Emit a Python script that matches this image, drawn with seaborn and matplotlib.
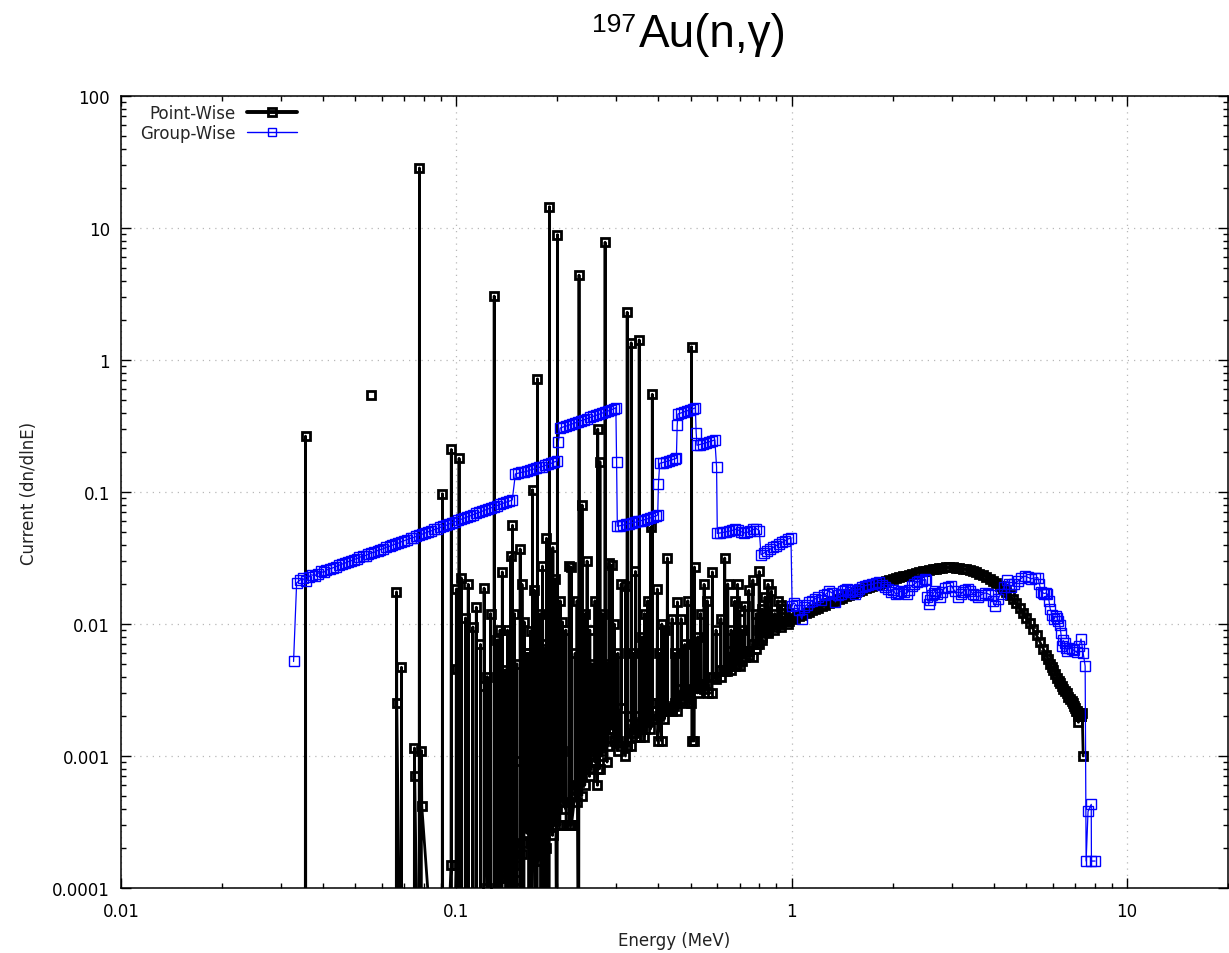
import numpy as np
import pandas as pd
import matplotlib
matplotlib.use("Agg")
import matplotlib.pyplot as plt
import seaborn as sns
from matplotlib.ticker import LogLocator, NullFormatter, FixedLocator, FixedFormatter
from matplotlib.lines import Line2D

# ---------------- Point-wise current: resolved resonances (MeV, dn/dlnE) ----------------
# each resonance: centre energy, peak value, floor on its low- and high-energy side
res_energy = [0.0355, 0.0663, 0.0686, 0.0750, 0.0776, 0.0787, 0.0909, 0.0966, 0.1000, 0.1019,
              0.1034, 0.1064, 0.1085, 0.1120, 0.1147, 0.1180, 0.1210, 0.1236, 0.1265, 0.1297,
              0.1324, 0.1371, 0.1421, 0.1452, 0.1470, 0.1514, 0.1550, 0.1593, 0.1640, 0.1664,
              0.1687, 0.1745, 0.1806, 0.1856, 0.1895, 0.1940, 0.2002, 0.2040, 0.2071, 0.2120,
              0.2171, 0.2200, 0.2322, 0.2371, 0.2420, 0.2454, 0.2540, 0.2590, 0.2640, 0.2680,
              0.2777, 0.2854, 0.2914, 0.3101, 0.3200, 0.3232, 0.3322, 0.3420, 0.3510, 0.3640,
              0.3800, 0.3840, 0.3975, 0.4100, 0.4258, 0.4400, 0.4563, 0.4800, 0.5027, 0.5131,
              0.5350, 0.5600, 0.5800, 0.6150, 0.6314, 0.6446, 0.6766, 0.7003, 0.7250, 0.7662,
              0.8000, 0.8323, 0.8700, 0.9100, 0.9556]
res_peak = [0.265, 0.0175, 0.0047, 0.00115, 28.5, 0.0011, 0.097, 0.21, 0.0184, 0.18,
            0.0224, 0.0111, 0.0200, 0.0095, 0.0134, 0.0070, 0.0187, 0.0040, 0.0120, 3.05,
            0.0076, 0.0248, 0.0090, 0.0327, 0.056, 0.0050, 0.037, 0.0104, 0.0060, 0.0089,
            0.104, 0.72, 0.0275, 0.0446, 14.5, 0.0380, 8.9, 0.0150, 0.0104, 0.0090,
            0.0275, 0.0270, 4.4, 0.0798, 0.0120, 0.0300, 0.0050, 0.0150, 0.30, 0.17,
            7.8, 0.029, 0.028, 0.0201, 0.0194, 2.3, 1.35, 0.025, 1.42, 0.012,
            0.054, 0.55, 0.0184, 0.0100, 0.0316, 0.0110, 0.0147, 0.0070, 1.26, 0.027,
            0.0120, 0.0150, 0.0248, 0.0110, 0.0316, 0.0201, 0.0149, 0.0126, 0.0137, 0.0216,
            0.0250, 0.0160, 0.0178, 0.0150, 0.0130]
res_floor_left = [3e-6, 3e-6, 3e-6, 3e-6, 3e-6, 3e-6, 3e-6, 0.00015, 0.00015, 3e-6,
                  3e-6, 3e-6, 3e-6, 3e-6, 3e-6, 3e-6, 3e-6, 0.0001, 3e-6, 3e-6,
                  3e-6, 3e-6, 0.00016, 3e-6, 3e-6, 3e-6, 3e-6, 3e-6, 0.00042, 3e-6,
                  3e-6, 3e-6, 0.00020, 0.00020, 3e-6, 0.00025, 3e-6, 0.00030, 0.0011, 0.0004,
                  0.0003, 0.0003, 3e-6, 0.0005, 0.0006, 0.00085, 0.0011, 0.0009, 0.0006, 0.0008,
                  0.0016, 0.0016, 0.0016, 0.0023, 0.0010, 0.0012, 0.0012, 0.0020, 0.0014, 0.0014,
                  0.0016, 0.0025, 0.0019, 0.0013, 0.0022, 0.0023, 0.0022, 0.0032, 0.0025, 0.0013,
                  0.0033, 0.0035, 0.0030, 0.0040, 0.0045, 0.0044, 0.0062, 0.0048, 0.0062, 0.0056,
                  0.0070, 0.0090, 0.0110, 0.0100, 0.0105]
res_floor_right = [3e-6, 0.0025, 3e-6, 0.0007, 3e-6, 0.00042, 3e-6, 3e-6, 0.0046, 3e-6,
                   3e-6, 3e-6, 3e-6, 3e-6, 3e-6, 3e-6, 0.0034, 3e-6, 3e-6, 3e-6,
                   0.00012, 0.00016, 3e-6, 0.00067, 3e-6, 0.000115, 0.00092, 0.0030, 3e-6, 0.00022,
                   0.00016, 0.00016, 0.0071, 3e-6, 0.0011, 0.00032, 0.00053, 0.0006, 0.00045, 0.0003,
                   0.0003, 0.0003, 0.00064, 0.0020, 0.0008, 0.0011, 0.0034, 0.0012, 0.0008, 0.0016,
                   0.0016, 0.0016, 0.0023, 0.0012, 0.0012, 0.0012, 0.0020, 0.0014, 0.0014, 0.0016,
                   0.0025, 0.0019, 0.0013, 0.0022, 0.0023, 0.0022, 0.0032, 0.0025, 0.0013, 0.0033,
                   0.0035, 0.0030, 0.0040, 0.0045, 0.0044, 0.0062, 0.0048, 0.0062, 0.0056, 0.0070,
                   0.0090, 0.0110, 0.0100, 0.0105, 0.0105]

# weaker resonances between the strong ones
weak_energy = [0.1350, 0.1400, 0.1490, 0.1570, 0.1620, 0.1710, 0.1780, 0.1830, 0.1920, 0.1975,
               0.2260, 0.2290, 0.2500, 0.2720, 0.2820, 0.2960, 0.3030, 0.3370, 0.3580, 0.3720,
               0.4030, 0.4180, 0.4480, 0.4680, 0.4900, 0.5250, 0.5480, 0.5950, 0.6600, 0.6900,
               0.7100, 0.7450, 0.7850, 0.8150, 0.8500, 0.8900, 0.9300, 0.9800]
weak_peak = [0.0090, 0.0045, 0.0120, 0.0200, 0.0060, 0.0180, 0.0120, 0.0065, 0.0100, 0.0220,
             0.0060, 0.0150, 0.0090, 0.0120, 0.0050, 0.0100, 0.0060, 0.0060, 0.0080, 0.0150,
             0.0060, 0.0090, 0.0060, 0.0110, 0.0150, 0.0080, 0.0200, 0.0090, 0.0090, 0.0200,
             0.0090, 0.0180, 0.0120, 0.0130, 0.0200, 0.0120, 0.0140, 0.0120]
weak_floor_left = [3e-6, 0.00013, 3e-6, 0.00018, 0.00030, 0.00020, 0.00028, 3e-6, 0.00035, 0.00030,
                   0.00050, 0.00045, 0.00070, 0.00100, 0.00090, 0.00130, 0.00110, 0.00150, 0.00170, 0.00180,
                   0.00200, 0.00190, 0.00240, 0.00260, 0.00280, 0.00300, 0.00320, 0.00380, 0.00450, 0.00500,
                   0.00520, 0.00580, 0.00650, 0.00750, 0.00850, 0.00900, 0.00950, 0.01000]
weak_floor_right = [0.00012, 3e-6, 0.00015, 0.00022, 0.00026, 0.00025, 3e-6, 0.00030, 0.00040, 0.00042,
                    0.00055, 0.00060, 0.00080, 0.00110, 0.00120, 0.00140, 0.00130, 0.00160, 0.00180, 0.00210,
                    0.00220, 0.00230, 0.00250, 0.00270, 0.00300, 0.00340, 0.00350, 0.00400, 0.00480, 0.00550,
                    0.00600, 0.00620, 0.00700, 0.00800, 0.00880, 0.00950, 0.01000, 0.01050]
RES_HALF_WIDTH = 0.002  # relative half width of a drawn resonance

# stray point with no connected neighbours
pw_single_energy = [0.0555]
pw_single_value = [0.54]

# ---------------- Point-wise current: smooth continuum ----------------
pw_cont_energy = [1.00, 1.025, 1.05, 1.075, 1.10, 1.125, 1.15, 1.175, 1.20, 1.23,
                  1.26, 1.29, 1.32, 1.35, 1.38, 1.415, 1.45, 1.485, 1.52, 1.555,
                  1.59, 1.625, 1.66, 1.70, 1.74, 1.78, 1.82, 1.865, 1.91, 1.955,
                  2.00, 2.045, 2.09, 2.14, 2.19, 2.24, 2.29, 2.345, 2.40, 2.455,
                  2.51, 2.57, 2.63, 2.69, 2.75, 2.815, 2.88, 2.95, 3.02, 3.09,
                  3.16, 3.235, 3.31, 3.39, 3.47, 3.55, 3.63, 3.715, 3.80, 3.89,
                  3.98, 4.075, 4.17, 4.27, 4.37, 4.47, 4.57, 4.68, 4.79, 4.90,
                  5.01, 5.13, 5.25, 5.375, 5.50, 5.625, 5.75, 5.825, 5.90, 5.965,
                  6.03, 6.115, 6.20, 6.255, 6.31, 6.385, 6.46, 6.535, 6.61, 6.685,
                  6.76, 6.83, 6.90, 6.95, 7.00, 7.04, 7.08, 7.12, 7.16, 7.20,
                  7.24, 7.27, 7.30, 7.35, 7.40]
pw_cont_value = [0.0110, 0.0112, 0.0115, 0.0118, 0.0121, 0.0124, 0.0127, 0.0130, 0.0133, 0.0136,
                 0.0140, 0.0143, 0.0147, 0.0150, 0.0154, 0.0158, 0.0162, 0.0166, 0.0170, 0.0174,
                 0.0178, 0.0182, 0.0186, 0.0190, 0.0194, 0.0198, 0.0202, 0.0206, 0.0210, 0.0214,
                 0.0218, 0.0222, 0.0226, 0.0230, 0.0233, 0.0237, 0.0240, 0.0244, 0.0247, 0.0250,
                 0.0253, 0.0256, 0.0259, 0.0262, 0.0265, 0.0267, 0.0268, 0.0268, 0.0268, 0.0267,
                 0.0265, 0.0262, 0.0259, 0.0255, 0.0251, 0.0246, 0.0241, 0.0235, 0.0228, 0.0221,
                 0.0213, 0.0204, 0.0195, 0.0185, 0.0175, 0.0165, 0.0154, 0.0143, 0.0132, 0.0122,
                 0.0111, 0.0101, 0.0091, 0.0082, 0.0073, 0.0065, 0.0058, 0.0054, 0.0050, 0.0047,
                 0.0045, 0.0042, 0.0039, 0.0037, 0.0036, 0.0034, 0.0032, 0.0031, 0.0030, 0.0028,
                 0.0027, 0.0026, 0.0025, 0.0024, 0.0023, 0.0022, 0.0022, 0.0020, 0.0018, 0.0020,
                 0.0021, 0.0020, 0.0020, 0.0021, 0.0010]

# ---------------- Group-wise current ----------------
gw_first_energy = [0.0327]
gw_first_value = [0.0052]

gw_low_energy = [0.0334, 0.0341, 0.0348, 0.0355, 0.0363, 0.0370, 0.0378, 0.0386, 0.0394, 0.0402,
                 0.0410, 0.0419, 0.0428, 0.0437, 0.0446, 0.0455, 0.0464, 0.0474, 0.0484, 0.0494,
                 0.0504, 0.0514, 0.0525, 0.0536, 0.0547, 0.0558, 0.0570, 0.0582, 0.0594, 0.0606,
                 0.0619, 0.0632, 0.0645, 0.0658, 0.0672, 0.0686, 0.0700, 0.0715, 0.0730, 0.0745,
                 0.0760, 0.0776, 0.0792, 0.0808, 0.0825, 0.0842, 0.0860, 0.0878, 0.0896, 0.0915,
                 0.0934, 0.0953, 0.0973, 0.0993, 0.1014, 0.1035, 0.1056, 0.1078, 0.1100, 0.1123,
                 0.1147, 0.1171, 0.1195, 0.1220, 0.1245, 0.1271, 0.1297, 0.1324, 0.1352, 0.1380,
                 0.1408, 0.1438, 0.1468]
gw_low_value = [0.0205, 0.0214, 0.0222, 0.0210, 0.0228, 0.0236, 0.0232, 0.0241, 0.0250, 0.0246,
                0.0256, 0.0262, 0.0266, 0.0272, 0.0278, 0.0284, 0.0288, 0.0296, 0.0300, 0.0308,
                0.0312, 0.0320, 0.0326, 0.0330, 0.0338, 0.0346, 0.0350, 0.0360, 0.0366, 0.0372,
                0.0382, 0.0388, 0.0396, 0.0404, 0.0410, 0.0420, 0.0428, 0.0436, 0.0446, 0.0452,
                0.0462, 0.0472, 0.0480, 0.0490, 0.0500, 0.0508, 0.0520, 0.0528, 0.0540, 0.0552,
                0.0560, 0.0574, 0.0586, 0.0596, 0.0610, 0.0622, 0.0634, 0.0648, 0.0660, 0.0674,
                0.0688, 0.0700, 0.0716, 0.0730, 0.0744, 0.0760, 0.0775, 0.0790, 0.0806, 0.0822,
                0.0838, 0.0852, 0.0870]

gw_mid_energy = [0.1500, 0.1531, 0.1563, 0.1596, 0.1629, 0.1663, 0.1697, 0.1733, 0.1769, 0.1805,
                 0.1843, 0.1881, 0.1920, 0.1960, 0.2000, 0.2015,
                 0.2040, 0.2083, 0.2126, 0.2170, 0.2215, 0.2261, 0.2308, 0.2356, 0.2405, 0.2455,
                 0.2506, 0.2558, 0.2611, 0.2666, 0.2721, 0.2778, 0.2835, 0.2894, 0.2954, 0.2990,
                 0.3005,
                 0.3020, 0.3083, 0.3147, 0.3212, 0.3279, 0.3347, 0.3417, 0.3488, 0.3560, 0.3634,
                 0.3710, 0.3787, 0.3866, 0.3946, 0.3985, 0.4005,
                 0.4040, 0.4124, 0.4210, 0.4297, 0.4386, 0.4477, 0.4530, 0.4555,
                 0.4580, 0.4675, 0.4772, 0.4872, 0.4973, 0.5076, 0.5160, 0.5190,
                 0.5220, 0.5328, 0.5439, 0.5552, 0.5667, 0.5785, 0.5900, 0.5970,
                 0.6000, 0.6125, 0.6252, 0.6382, 0.6515, 0.6650, 0.6788, 0.6929, 0.7073, 0.7220,
                 0.7370, 0.7524, 0.7680, 0.7840, 0.8003,
                 0.8100, 0.8268, 0.8440, 0.8616, 0.8795, 0.8978, 0.9164, 0.9355, 0.9549, 0.9748,
                 0.9950]
gw_mid_value = [0.137, 0.139, 0.141, 0.142, 0.144, 0.147, 0.149, 0.151, 0.154, 0.156,
                0.159, 0.162, 0.165, 0.169, 0.172, 0.240,
                0.305, 0.311, 0.316, 0.322, 0.328, 0.334, 0.340, 0.347, 0.353, 0.360,
                0.367, 0.374, 0.381, 0.388, 0.396, 0.403, 0.411, 0.419, 0.428, 0.436,
                0.168,
                0.0550, 0.0556, 0.0562, 0.0570, 0.0576, 0.0584, 0.0590, 0.0600, 0.0608, 0.0616,
                0.0626, 0.0636, 0.0648, 0.0660, 0.0672, 0.115,
                0.165, 0.167, 0.170, 0.172, 0.175, 0.178, 0.180, 0.320,
                0.390, 0.397, 0.404, 0.411, 0.419, 0.427, 0.435, 0.280,
                0.226, 0.229, 0.232, 0.236, 0.240, 0.244, 0.248, 0.155,
                0.0485, 0.0490, 0.0495, 0.0500, 0.0505, 0.0512, 0.0522, 0.0515, 0.0500, 0.0490,
                0.0495, 0.0505, 0.0520, 0.0528, 0.0510,
                0.0335, 0.0345, 0.0358, 0.0368, 0.0380, 0.0392, 0.0403, 0.0415, 0.0427, 0.0440,
                0.0450]

gw_high_energy = [1.003, 1.015, 1.029, 1.050, 1.072, 1.090, 1.110, 1.130, 1.150, 1.175,
                  1.200, 1.225, 1.250, 1.270, 1.290, 1.320, 1.350, 1.375, 1.400, 1.420,
                  1.440, 1.465, 1.490, 1.515, 1.540, 1.565, 1.590, 1.620, 1.650, 1.690,
                  1.740, 1.780, 1.820, 1.860, 1.900, 1.940, 1.980, 2.010, 2.040, 2.080,
                  2.120, 2.160, 2.200, 2.240, 2.280, 2.320, 2.360, 2.400, 2.450, 2.490,
                  2.510, 2.540, 2.560, 2.590, 2.620, 2.650, 2.680, 2.720, 2.770, 2.810,
                  2.860, 2.920, 2.990, 3.060, 3.140, 3.190, 3.240, 3.290, 3.350, 3.410,
                  3.470, 3.530, 3.600, 3.680, 3.770, 3.840, 3.920, 3.980, 4.040, 4.120,
                  4.210, 4.300, 4.400, 4.450, 4.500, 4.610, 4.720, 4.840, 4.960, 5.060,
                  5.170, 5.300, 5.420, 5.480, 5.540, 5.600, 5.670, 5.730, 5.790, 5.850,
                  5.900, 5.980, 6.070, 6.120, 6.180, 6.240, 6.300, 6.350, 6.390, 6.450,
                  6.520, 6.560, 6.600, 6.700, 6.830, 6.950, 7.080, 7.200, 7.290, 7.400,
                  7.500, 7.550, 7.650, 7.820, 7.830, 8.030]
gw_high_value = [0.0137, 0.0145, 0.0140, 0.0128, 0.0109, 0.0135, 0.0140, 0.0146, 0.0150, 0.0155,
                 0.0160, 0.0152, 0.0165, 0.0170, 0.0178, 0.0172, 0.0147, 0.0165, 0.0170, 0.0178,
                 0.0182, 0.0185, 0.0176, 0.0180, 0.0169, 0.0178, 0.0185, 0.0190, 0.0195, 0.0198,
                 0.0200, 0.0204, 0.0207, 0.0198, 0.0190, 0.0183, 0.0175, 0.0180, 0.0169, 0.0172,
                 0.0178, 0.0174, 0.0169, 0.0182, 0.0195, 0.0201, 0.0207, 0.0210, 0.0212, 0.0218,
                 0.0216, 0.0160, 0.0141, 0.0152, 0.0165, 0.0172, 0.0178, 0.0168, 0.0160, 0.0175,
                 0.0188, 0.0192, 0.0195, 0.0178, 0.0160, 0.0168, 0.0175, 0.0180, 0.0185, 0.0178,
                 0.0170, 0.0165, 0.0160, 0.0167, 0.0172, 0.0170, 0.0165, 0.0150, 0.0137, 0.0155,
                 0.0170, 0.0192, 0.0215, 0.0200, 0.0190, 0.0200, 0.0210, 0.0222, 0.0231, 0.0226,
                 0.0220, 0.0223, 0.0225, 0.0200, 0.0176, 0.0173, 0.0170, 0.0172, 0.0168, 0.0150,
                 0.0130, 0.0118, 0.0109, 0.0115, 0.0112, 0.0105, 0.0098, 0.0085, 0.0068, 0.0075,
                 0.0072, 0.0066, 0.0062, 0.0066, 0.0065, 0.0063, 0.0061, 0.0068, 0.0077, 0.0060,
                 0.0048, 0.00016, 0.00038, 0.00043, 0.00016, 0.00016]

# ---------------- Axis ticks ----------------
x_ticks = [0.01, 0.1, 1, 10]
x_tick_labels = ["0.01", "0.1", "1", "10"]
y_ticks = [1e-4, 1e-3, 1e-2, 1e-1, 1, 10, 100]
y_tick_labels = ["0.0001", "0.001", "0.01", "0.1", "1", "10", "100"]


def resonance_trace(energy, peak, left, right, half_width):
    order = np.argsort(energy)
    e, v = [], []
    for i in order:
        ec = energy[i]
        e += [ec * (1 - half_width), ec, ec * (1 + half_width)]
        v += [left[i], peak[i], right[i]]
    return e, v


res_e, res_v = resonance_trace(res_energy + weak_energy, res_peak + weak_peak,
                               res_floor_left + weak_floor_left,
                               res_floor_right + weak_floor_right, RES_HALF_WIDTH)

point_wise = pd.concat([
    pd.DataFrame({"energy": pw_single_energy, "current": pw_single_value, "unit": 0}),
    pd.DataFrame({"energy": res_e + pw_cont_energy, "current": res_v + pw_cont_value,
                  "unit": 1}),
], ignore_index=True)

group_wise = pd.DataFrame({
    "energy": gw_first_energy + gw_low_energy + gw_mid_energy + gw_high_energy,
    "current": gw_first_value + gw_low_value + gw_mid_value + gw_high_value,
    "unit": 0,
})

sns.set_theme(context="notebook", style="white")
plt.rcParams["font.family"] = ["DejaVu Sans"]

W, H = 1229, 954
fig = plt.figure(figsize=(W / 100, H / 100), dpi=100)
ax = fig.add_axes([121 / W, 1 - 889 / H, (1228 - 121) / W, (889 - 97) / H])
ax.set_xscale("log")
ax.set_yscale("log")

BLUE = "#0000ff"
sns.lineplot(data=point_wise, x="energy", y="current", units="unit", estimator=None,
             sort=False, ax=ax, color="black", linewidth=2.0, marker="s", markersize=5.8,
             markerfacecolor="none", markeredgecolor="black", markeredgewidth=2.0,
             legend=False, zorder=2)
sns.lineplot(data=group_wise, x="energy", y="current", units="unit", estimator=None,
             sort=False, ax=ax, color=BLUE, linewidth=0.9, marker="s", markersize=6.5,
             markerfacecolor="none", markeredgecolor=BLUE, markeredgewidth=1.0,
             legend=False, zorder=3)

ax.set_xlim(0.01, 20)
ax.set_ylim(1e-4, 100)

ax.xaxis.set_major_locator(FixedLocator(x_ticks))
ax.xaxis.set_major_formatter(FixedFormatter(x_tick_labels))
ax.yaxis.set_major_locator(FixedLocator(y_ticks))
ax.yaxis.set_major_formatter(FixedFormatter(y_tick_labels))
ax.xaxis.set_minor_locator(LogLocator(base=10, subs=np.arange(2, 10), numticks=50))
ax.yaxis.set_minor_locator(LogLocator(base=10, subs=np.arange(2, 10), numticks=50))
ax.xaxis.set_minor_formatter(NullFormatter())
ax.yaxis.set_minor_formatter(NullFormatter())

ax.tick_params(which="both", direction="in", top=True, right=True, bottom=True, left=True,
               colors="black", labelsize=12, width=1.0)
ax.tick_params(which="major", length=7)
ax.tick_params(which="minor", length=3.5)
ax.tick_params(axis="x", which="major", pad=10)
ax.tick_params(axis="y", which="major", pad=8)

ax.grid(True, which="major", color="#b8b8b8", linestyle=(0, (1, 4)), linewidth=0.9)
ax.grid(False, which="minor")
for s in ax.spines.values():
    s.set_color("black")
    s.set_linewidth(1.1)

ax.set_xlabel("Energy (MeV)", fontsize=12, labelpad=8, color="#222222")
ax.set_ylabel("Current (dn/dlnE)", fontsize=12, labelpad=10, color="#222222")

handles = [
    Line2D([], [], color="black", linewidth=2.8, marker="s", markersize=5.8,
           markerfacecolor="none", markeredgecolor="black", markeredgewidth=2.0),
    Line2D([], [], color=BLUE, linewidth=1.0, marker="s", markersize=6.2,
           markerfacecolor="none", markeredgecolor=BLUE, markeredgewidth=1.0),
]
ax.legend(handles, ["Point-Wise", "Group-Wise"], loc="upper left",
          bbox_to_anchor=((140 - 121) / 1107, (889 - 105) / 792), frameon=False,
          markerfirst=False, fontsize=12, handlelength=3.0, handletextpad=0.7,
          labelspacing=0.1, borderpad=0, borderaxespad=0)

fig.text(636 / W, 1 - 32 / H, "197", fontsize=19, family="Liberation Sans",
         ha="right", va="baseline", color="black")
fig.text(639 / W, 1 - 47 / H, "Au(n,γ)", fontsize=33, family="Liberation Sans",
         ha="left", va="baseline", color="black")

fig.savefig("out.png", dpi=100)
